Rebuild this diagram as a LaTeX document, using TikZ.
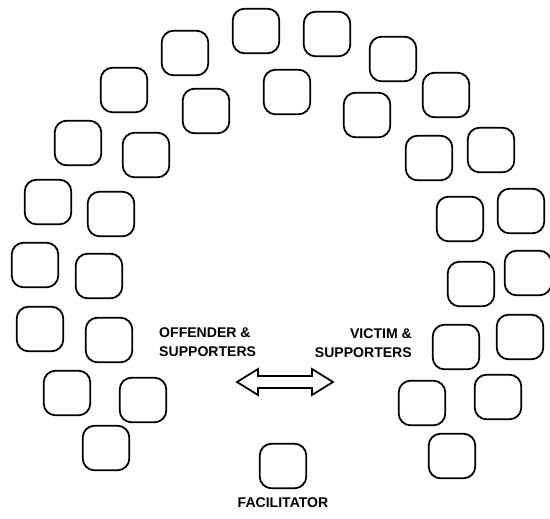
\documentclass[tikz,border=0pt]{standalone}
\usepackage{fontspec}
\usepackage{tikz}
\newfontfamily\labelfont{Liberation Sans}

\tikzset{
	seat/.style={shape=rectangle, draw=black, line width=1.5pt, rounded corners=0.36cm,
		minimum width=1.40cm, minimum height=1.34cm, inner sep=0pt},
	lbl/.style={font=\labelfont\bfseries\fontsize{12}{16}\selectfont, inner sep=0pt}
}

\begin{document}
\begin{tikzpicture}[x=0.03cm, y=-0.03cm]
	
	\useasboundingbox (0, 0) rectangle (550, 518);
	
	% offender side
	\node[seat] (s1)  at (256, 31)  {};
	\node[seat] (s2)  at (185, 53)  {};
	\node[seat] (s3)  at (287, 92)  {};
	\node[seat] (s4)  at (124, 90)  {};
	\node[seat] (s5)  at (206, 111) {};
	\node[seat] (s6)  at (78, 143)  {};
	\node[seat] (s7)  at (146, 155) {};
	\node[seat] (s8)  at (48, 202)  {};
	\node[seat] (s9)  at (111, 214) {};
	\node[seat] (s10) at (35, 265)  {};
	\node[seat] (s11) at (99, 276)  {};
	\node[seat] (s12) at (40, 329)  {};
	\node[seat] (s13) at (109, 340) {};
	\node[seat] (s14) at (67, 393)  {};
	\node[seat] (s15) at (143, 400) {};
	\node[seat] (s16) at (106, 448) {};
	
	% victim side
	\node[seat] (s17) at (327, 34)  {};
	\node[seat] (s18) at (393, 59)  {};
	\node[seat] (s19) at (367, 115) {};
	\node[seat] (s20) at (446, 95)  {};
	\node[seat] (s21) at (429, 158) {};
	\node[seat] (s22) at (491, 150) {};
	\node[seat] (s23) at (460, 219) {};
	\node[seat] (s24) at (521, 211) {};
	\node[seat] (s25) at (471, 284) {};
	\node[seat] (s26) at (528, 273) {};
	\node[seat] (s27) at (456, 347) {};
	\node[seat] (s28) at (520, 337) {};
	\node[seat] (s29) at (422, 403) {};
	\node[seat] (s30) at (498, 397) {};
	\node[seat] (s31) at (452, 456) {};
	
	% facilitator
	\node[seat] (fac) at (283, 466) {};
	\node[lbl] (facl) at (283, 503) {FACILITATOR};
	
	\node[lbl, anchor=west, align=left]  (off) at (159, 342) {OFFENDER \&\\SUPPORTERS};
	\node[lbl, anchor=east, align=right] (vic) at (412, 343) {VICTIM \&\\SUPPORTERS};
	
	\draw[line width=1.5pt, line join=miter]
		(237, 382) -- (258, 369) -- (258, 376) -- (312, 376) -- (312, 369) -- (333, 382)
		-- (312, 395) -- (312, 388) -- (258, 388) -- (258, 395) -- cycle;

\end{tikzpicture}
\end{document}
